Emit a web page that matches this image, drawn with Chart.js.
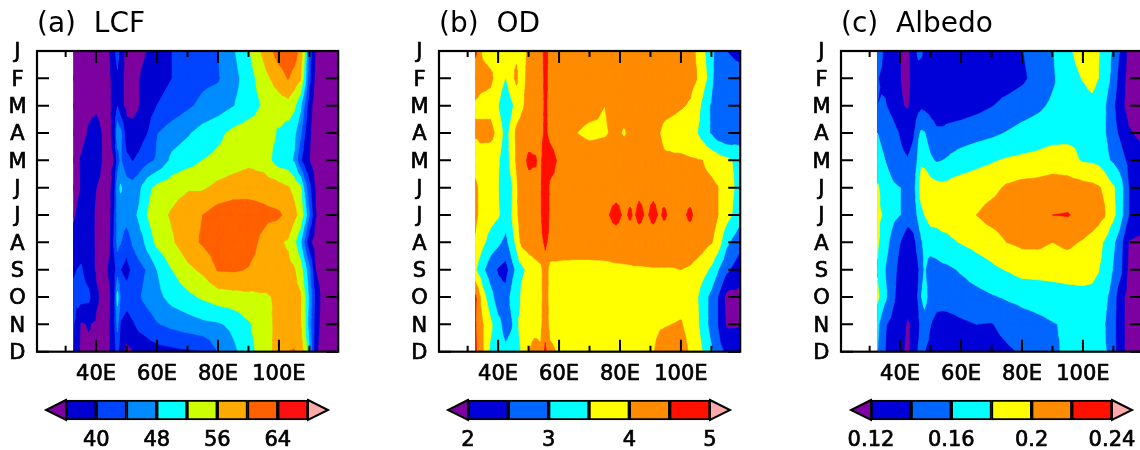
<!DOCTYPE html>
<html>
<head>
<meta charset="utf-8">
<script src="https://cdn.jsdelivr.net/npm/chart.js@4"></script>
<style>
  html, body { margin: 0; background: #fff; overflow: hidden; }
  #page { position: relative; width: 1140px; height: 450px; overflow: hidden; }
  canvas { position: absolute; }
</style>
</head>
<body>
<div id="page"></div>
<script>
const months = ['J','F','M','A','M','J','J','A','S','O','N','D'];
const xLabelTicks = [40, 60, 80, 100];
const xMinorTicks = [30, 50, 70, 90, 110];

// grid longitudes, the steep narrow features need tighter columns
const lons = [32.5,35,37.5,40,42.5,44.5,46,47,48,50,52,54,55.5,57,60,65,70,75,80,85,90,95,100,103,105,107,108.5,110,112,115,119.4];
const lonsOD = [32.5,35,37.5,40,42.5,44.5,46,47,48,50,52,54,55.5,57,60,65,70,75,
  78.7,81.4,83.3,84.6,86.3,88.6,90.9,92.9,94.5,97.1,
  100,103,105,107,108.5,110,112,115,119.4];

const lcf = [
  [34,34,34,34,35,36,39,42,37.5,35,34.5,35,35.5,36.2,38,40,41.5,43,44,47.5,51.5,57,62,63,62,59,52,42,35.5,33,32],
  [34.5,35,35.5,35,35,35.5,37.5,39,37,35,35,35.8,36.6,37.2,38.5,40,41.5,43,43.6,46.5,50,54.5,58,60.2,58.5,56.5,50,41,35,33,32],
  [34,34.5,35.5,35.5,35,35.5,37,39.8,37,35,35,35.8,37,38,40,41.5,43.3,45,46,47.8,50,52.5,54,54.5,52.8,49,43.5,37.5,34,33,32],
  [33.5,35,36.2,37,35.5,35,38,47,45,37.5,37,37.5,39,40,43.8,46,47.5,49.5,51,53,54,54,51.5,50,49,45,40,36.5,34,33,32],
  [34.5,36.2,37.5,37.5,35.5,35,36,42,44.5,41,39.8,41,42,43,44.5,49,50.5,52,53,54,55,54,50,49.5,47.5,41,37.5,36,34,33,32],
  [35,36,37.5,36,35,35,39,46.5,48.5,46,45.5,47,49,51,53,54.5,55.5,55.5,57,58,58.5,58.5,57.5,56.3,55,53,46.5,41,35.5,33,32],
  [35.5,37,37.5,35.5,35,35,40,45,46,46,47,48.5,50,52.2,54.5,56.5,58.5,60,62,62.5,62,61,60.5,59,57,55,50.5,44,36.2,33,32],
  [37,38,37.5,35.5,35,35.5,41,45,44.2,41.5,44.5,46.5,47.5,50,53,55.5,58.5,60.5,62,62,61.5,59,56.5,55.5,53,49,43,37,34,33,32],
  [39.5,40.5,38,35.5,35,36.5,38.5,42,40,38.5,41,42.5,43.5,44.5,48,52,55,56.8,60.3,60.5,59.8,58.5,57.5,57,56.3,54,50,45,36,33,32],
  [41,41.5,41,36.5,35,35.5,39,49.5,43.5,42,42.5,43.5,44.5,45.5,46.8,49.5,51,52.6,54,54.5,55,55.5,56.5,57,57,56.5,52,47,39,33,32],
  [40.5,35.5,36.2,35.5,35,36,39.5,45,39.5,38,39.5,41,41.5,42,43.7,45,46,47,47.5,49,51.5,54.5,57,57.5,57.5,56.5,52,46,38,33,32],
  [40,35,35.5,35.5,35,35.8,38.5,41.5,37,35,35.8,37,37.5,38,38.5,39,39.5,39.8,44,47,50.5,54,57.5,60,60.3,58,55,48,37,33,32]
];

const od = [
  [4.6,3.9,3.8,3.8,3.85,3.9,3.9,3.85,3.9,4.05,4.2,4.3,4.7,4.3,4.25,4.2,4.2,4.2, 4.2,4.2,4.25,4.25,4.25,4.25,4.25,4.25,4.25,4.2, 4.2,4.15,3.97,3.65,3.4,3.1,2.85,2.5,2.35],
  [4.2,4.2,4.1,3.8,3.48,3.9,4.1,3.85,3.9,4.1,4.15,4.15,4.7,4.25,4.2,4.15,4.15,4.2, 4.2,4.2,4.25,4.25,4.25,4.25,4.25,4.25,4.2,4.2, 4.2,4.15,4.02,3.75,3.5,3.1,2.75,2.7,2.7],
  [3.95,3.8,3.8,3.5,3.1,3.4,3.7,3.8,3.95,4.15,4.2,4.3,4.6,4.3,4.25,4.2,4.15,4.0, 4.15,4.2,4.25,4.3,4.3,4.3,4.3,4.25,4.2,4.15, 4.05,3.95,3.75,3.4,3.1,2.95,2.7,2.6,2.7],
  [4.05,4.2,4.2,3.8,3.3,3.7,4.1,4.2,4.2,4.25,4.3,4.35,4.6,4.35,4.2,4.02,3.9,3.95, 4.1,3.95,4.1,4.15,4.15,4.15,4.1,4.02,3.85,3.75, 3.7,3.65,3.55,3.3,3.1,2.95,2.7,2.55,2.7],
  [3.8,3.65,3.6,3.55,3.2,3.7,4.05,4.2,4.3,4.6,4.55,4.4,4.9,4.75,4.4,4.3,4.25,4.25, 4.3,4.3,4.3,4.3,4.3,4.3,4.3,4.2,4.1,4.1, 4.1,4.05,4.03,4.0,3.9,3.85,3.75,3.6,3.35],
  [4.1,3.8,3.75,3.5,3.2,3.45,3.9,4.15,4.2,4.3,4.35,4.45,4.9,4.4,4.35,4.35,4.35,4.35, 4.35,4.38,4.38,4.38,4.4,4.4,4.4,4.4,4.38,4.35, 4.3,4.3,4.25,4.2,4.15,4.1,4.02,3.7,3.35],
  [4.1,3.8,3.7,3.55,3.25,3.5,3.9,4.1,4.2,4.3,4.4,4.45,4.9,4.4,4.4,4.4,4.42,4.42, 4.62,4.44,4.55,4.46,4.6,4.45,4.6,4.46,4.55,4.4, 4.38,4.58,4.4,4.3,4.25,4.2,4.02,3.7,3.2],
  [3.95,3.6,3.3,3.1,2.85,3.3,3.6,3.95,4.15,4.25,4.3,4.35,4.6,4.35,4.3,4.25,4.25,4.3, 4.3,4.3,4.3,4.3,4.3,4.3,4.3,4.3,4.3,4.3, 4.3,4.25,4.25,4.2,4.1,4.03,3.8,3.1,2.65],
  [3.55,3.1,2.7,2.45,2.3,2.8,3.1,3.3,3.4,3.65,3.8,3.9,4.25,3.85,3.85,3.85,3.85,3.85, 3.9,3.92,3.93,3.95,3.95,3.96,3.97,3.97,3.97,3.97, 4.0,3.95,3.85,3.7,3.55,3.4,3.05,2.6,2.2],
  [4.6,3.7,3.2,2.7,2.7,3.15,3.5,3.4,3.7,3.8,3.85,3.9,4.2,3.85,3.85,3.8,3.8,3.8, 3.8,3.8,3.82,3.82,3.85,3.85,3.85,3.85,3.85,3.85, 3.85,3.8,3.6,3.25,3.05,2.85,2.5,1.85,1.85],
  [4.55,4.0,3.6,3.15,2.8,2.95,3.3,3.55,3.6,3.8,3.85,3.9,4.3,3.85,3.8,3.8,3.75,3.75, 3.75,3.78,3.8,3.82,3.85,3.9,3.93,3.96,3.97,4.0, 4.03,3.85,3.65,3.3,3.05,2.85,2.5,1.93,1.95],
  [4.6,4.0,3.4,3.2,3.1,3.2,3.35,3.45,3.6,4.0,4.15,4.05,4.6,4.1,3.95,3.85,3.85,3.85, 3.85,3.85,3.88,3.9,3.92,3.97,3.98,4.1,4.2,4.25, 4.2,3.95,3.8,3.5,3.2,3.05,2.7,2.4,2.3]
];

const albedo = [
  [.15,.137,.125,.12,.115,.13,.145,.143,.135,.13,.13,.128,.128,.128,.128,.13,.13,.133,.139,.15,.159,.175,.19,.19,.182,.17,.163,.158,.14,.115,.11],
  [.141,.135,.125,.12,.115,.127,.13,.13,.128,.128,.128,.127,.127,.127,.127,.127,.128,.13,.136,.147,.157,.172,.181,.187,.18,.17,.162,.153,.132,.113,.11],
  [.14,.142,.133,.122,.118,.127,.133,.136,.135,.132,.13,.13,.13,.13,.131,.134,.139,.146,.151,.156,.163,.168,.172,.174,.17,.163,.153,.143,.127,.113,.11],
  [.16,.155,.148,.138,.13,.138,.157,.163,.161,.15,.143,.143,.145,.146,.148,.152,.156,.161,.166,.169,.172,.175,.177,.175,.17,.162,.155,.147,.137,.122,.115],
  [.165,.16,.152,.145,.141,.148,.165,.175,.172,.163,.158,.16,.162,.165,.17,.175,.178,.182,.184,.186,.19,.187,.178,.177,.175,.168,.161,.157,.15,.135,.125],
  [.183,.17,.163,.16,.15,.155,.175,.195,.2,.19,.187,.185,.186,.188,.189,.19,.194,.203,.207,.208,.21,.21,.207,.205,.202,.197,.188,.182,.172,.14,.13],
  [.183,.178,.165,.16,.15,.15,.165,.172,.18,.187,.187,.188,.188,.189,.19,.2,.208,.212,.216,.218,.22,.221,.215,.211,.208,.202,.19,.184,.171,.14,.128],
  [.183,.168,.153,.14,.126,.135,.148,.158,.165,.17,.172,.175,.176,.178,.181,.186,.19,.2,.204,.204,.2,.204,.198,.193,.187,.178,.172,.163,.15,.119,.115],
  [.178,.16,.148,.133,.124,.128,.138,.15,.162,.15,.152,.155,.156,.158,.162,.17,.176,.181,.187,.188,.189,.189,.187,.185,.181,.174,.168,.158,.148,.116,.112],
  [.185,.165,.145,.13,.124,.13,.142,.16,.168,.15,.146,.147,.148,.149,.15,.153,.158,.162,.165,.166,.168,.172,.175,.175,.172,.166,.158,.15,.128,.113,.11],
  [.165,.142,.134,.125,.1185,.122,.135,.147,.15,.14,.135,.133,.133,.134,.137,.14,.139,.146,.152,.156,.159,.162,.167,.168,.166,.161,.153,.147,.128,.113,.11],
  [.161,.14,.13,.123,.117,.125,.142,.15,.14,.135,.131,.13,.13,.13,.13,.131,.133,.137,.142,.15,.157,.163,.166,.168,.166,.162,.158,.147,.128,.113,.11]
];

const lcfLevels = [36,40,44,48,52,56,60,64,68];
const odLevels = [2,2.5,3,3.5,4,4.5,5];
const albedoLevels = [0.12,0.14,0.16,0.18,0.2,0.22,0.24];
const lcfColors = ['#7d00a0','#0000d0','#0044ff','#008cff','#00ffff','#ccff00','#ffaa00','#ff6000','#ff1010','#ffaaaa'];
const odColors = ['#7d00a0','#0000d8','#0066ff','#00ffff','#ffff00','#ff8c00','#ff1000','#ffaaaa'];
const albedoColors = ['#7d00a0','#0000d8','#0066ff','#00ffff','#ffff00','#ff8c00','#ff1000','#ffaaaa'];
const lcfBarTicks = [40,48,56,64];
const odBarTicks = [2,3,4,5];
const albedoBarTicks = [0.12,0.16,0.2,0.24];

const FONT = 'DejaVu Sans';

// clip a triangle to v >= level, returns the polygon in [x, y] data coords
function clipTriangle(tri, level) {
  const out = [];
  for (let i = 0; i < 3; i++) {
    const a = tri[i], b = tri[(i + 1) % 3];
    if (a[2] >= level) out.push(a);
    if ((a[2] >= level) !== (b[2] >= level)) {
      const t = (level - a[2]) / (b[2] - a[2]);
      out.push([a[0] + t * (b[0] - a[0]), a[1] + t * (b[1] - a[1])]);
    }
  }
  return out;
}

// filled contours, painted from the lowest band up
const contourPlugin = {
  id: 'contour',
  beforeDatasetsDraw(chart, args, opts) {
    const { ctx, chartArea, scales: { x, y } } = chart;
    const tris = [];
    for (let r = 0; r < opts.grid.length - 1; r++) {
      for (let c = 0; c < opts.lons.length - 1; c++) {
        const p = [
          [opts.lons[c], r, opts.grid[r][c]],
          [opts.lons[c + 1], r, opts.grid[r][c + 1]],
          [opts.lons[c + 1], r + 1, opts.grid[r + 1][c + 1]],
          [opts.lons[c], r + 1, opts.grid[r + 1][c]]
        ];
        const mid = [(p[0][0] + p[1][0]) / 2, r + 0.5, (p[0][2] + p[1][2] + p[2][2] + p[3][2]) / 4];
        for (let i = 0; i < 4; i++) tris.push([mid, p[i], p[(i + 1) % 4]]);
      }
    }
    const dataLeft = Math.round(x.getPixelForValue(opts.lons[0]));
    ctx.save();
    ctx.beginPath();
    ctx.rect(dataLeft, chartArea.top, chartArea.right - dataLeft, chartArea.height);
    ctx.clip();
    ctx.lineWidth = 0.6;
    ctx.lineJoin = 'round';
    for (let b = 0; b < opts.colors.length; b++) {
      const level = b === 0 ? -Infinity : opts.levels[b - 1];
      ctx.beginPath();
      for (const tri of tris) {
        const poly = clipTriangle(tri, level);
        poly.forEach((pt, i) => {
          const px = x.getPixelForValue(pt[0]), py = y.getPixelForValue(pt[1]);
          if (i === 0) ctx.moveTo(px, py); else ctx.lineTo(px, py);
        });
        if (poly.length) ctx.closePath();
      }
      ctx.fillStyle = ctx.strokeStyle = opts.colors[b];
      ctx.fill();
      ctx.stroke();
    }
    ctx.restore();
  },
  afterDatasetsDraw(chart) {
    const { ctx, chartArea: a, scales: { x, y } } = chart;
    ctx.save();
    ctx.strokeStyle = '#000';
    ctx.lineWidth = 2;
    ctx.beginPath();
    const xTick = (v, len) => {
      const px = x.getPixelForValue(v);
      ctx.moveTo(px, a.bottom); ctx.lineTo(px, a.bottom - len);
      ctx.moveTo(px, a.top); ctx.lineTo(px, a.top + len);
    };
    xLabelTicks.forEach(v => xTick(v, 12));
    xMinorTicks.forEach(v => xTick(v, 6));
    months.forEach((m, i) => {
      const py = y.getPixelForValue(i);
      ctx.moveTo(a.left, py); ctx.lineTo(a.left + 12, py);
      ctx.moveTo(a.right, py); ctx.lineTo(a.right - 12, py);
    });
    ctx.stroke();
    ctx.lineWidth = 2.2;
    ctx.strokeRect(a.left, a.top, a.width, a.height);
    ctx.restore();
  }
};

// triangle ends of the colour bar
const barEndsPlugin = {
  id: 'barEnds',
  afterDatasetsDraw(chart, args, opts) {
    const { ctx, chartArea: a } = chart;
    const mid = (a.top + a.bottom) / 2;
    const end = (x0, tip, color) => {
      ctx.beginPath();
      ctx.moveTo(x0, a.top); ctx.lineTo(tip, mid); ctx.lineTo(x0, a.bottom); ctx.closePath();
      ctx.fillStyle = color;
      ctx.fill();
      ctx.stroke();
    };
    ctx.save();
    ctx.strokeStyle = '#000';
    ctx.lineWidth = 2;
    ctx.lineJoin = 'miter';
    end(a.left, a.left - 20, opts.under);
    end(a.right, a.right + 20, opts.over);
    ctx.restore();
  }
};

function addCanvas(left, top, w, h) {
  const c = document.createElement('canvas');
  c.width = w; c.height = h;
  c.style.left = left + 'px'; c.style.top = top + 'px';
  c.style.width = w + 'px'; c.style.height = h + 'px';
  document.getElementById('page').appendChild(c);
  return c;
}

function panel(left, title, panelLons, grid, levels, colors) {
  const points = [];
  grid.forEach((row, r) => row.forEach((v, c) => points.push({ x: panelLons[c], y: r, v: v })));
  new Chart(addCanvas(left, 0, 380, 400), {
    type: 'scatter',
    data: { datasets: [{ data: points, pointRadius: 0, showLine: false }] },
    plugins: [contourPlugin],
    options: {
      responsive: false,
      animation: false,
      events: [],
      layout: { padding: { left: 0, right: 41.8, top: 0, bottom: 8.3 } },
      plugins: {
        legend: { display: false },
        tooltip: { enabled: false },
        title: {
          display: true, text: title, align: 'start', fullSize: false, color: '#000',
          font: { family: FONT, size: 28, weight: 'normal', lineHeight: 1.2 },
          padding: { top: 8, bottom: 9.4 }
        },
        contour: { lons: panelLons, grid: grid, levels: levels, colors: colors }
      },
      scales: {
        x: {
          type: 'linear', min: 20.6, max: 119.45,
          grid: { display: false, drawTicks: false },
          border: { display: false },
          afterBuildTicks: s => { s.ticks = xLabelTicks.map(v => ({ value: v })); },
          afterFit: s => { s.height = 40; },
          ticks: {
            color: '#000', font: { family: FONT, size: 21 }, padding: 10,
            textStrokeColor: '#000', textStrokeWidth: 0.7,
            maxRotation: 0, autoSkip: false, callback: v => v + 'E'
          }
        },
        y: {
          type: 'linear', min: 0, max: 11, reverse: true,
          grid: { display: false, drawTicks: false },
          border: { display: false },
          afterBuildTicks: s => { s.ticks = months.map((m, i) => ({ value: i })); },
          afterFit: s => { s.width = 37; },
          ticks: {
            color: '#000', font: { family: FONT, size: 21 }, padding: 10.5,
            textStrokeColor: '#000', textStrokeWidth: 0.7, labelOffset: 2,
            crossAlign: 'center', autoSkip: false, callback: v => months[v]
          }
        }
      }
    }
  });
}

function colorBar(left, padLeft, levels, colors, barTicks) {
  const sets = [];
  for (let i = 0; i < levels.length - 1; i++) {
    sets.push({
      data: [[levels[i], levels[i + 1]]], backgroundColor: colors[i + 1],
      borderColor: '#000', borderWidth: 2, borderSkipped: false,
      barPercentage: 1, categoryPercentage: 1, grouped: false, clip: false
    });
  }
  new Chart(addCanvas(left, 395, 380, 55), {
    type: 'bar',
    data: { labels: [''], datasets: sets },
    plugins: [barEndsPlugin],
    options: {
      indexAxis: 'y',
      responsive: false,
      animation: false,
      events: [],
      layout: { padding: { left: padLeft, right: 72, top: 5, bottom: 0 } },
      plugins: {
        legend: { display: false },
        tooltip: { enabled: false },
        barEnds: { under: colors[0], over: colors[colors.length - 1] }
      },
      scales: {
        y: { display: false },
        x: {
          type: 'linear', min: levels[0], max: levels[levels.length - 1],
          grid: { display: false, drawTicks: false },
          border: { display: false },
          afterBuildTicks: s => { s.ticks = barTicks.map(v => ({ value: v })); },
          afterFit: s => { s.height = 30; },
          ticks: {
            color: '#000', font: { family: FONT, size: 21 }, padding: 8,
            textStrokeColor: '#000', textStrokeWidth: 0.7,
            maxRotation: 0, autoSkip: false, callback: v => String(v)
          }
        }
      }
    }
  });
}

panel(0, '(a)  LCF', lons, lcf, lcfLevels, lcfColors);
panel(402, '(b)  OD', lonsOD, od, odLevels, odColors);
panel(804, '(c)  Albedo', lons, albedo, albedoLevels, albedoColors);

colorBar(0, 66, lcfLevels, lcfColors, lcfBarTicks);
colorBar(402, 66, odLevels, odColors, odBarTicks);
colorBar(804, 67, albedoLevels, albedoColors, albedoBarTicks);
</script>
</body>
</html>
